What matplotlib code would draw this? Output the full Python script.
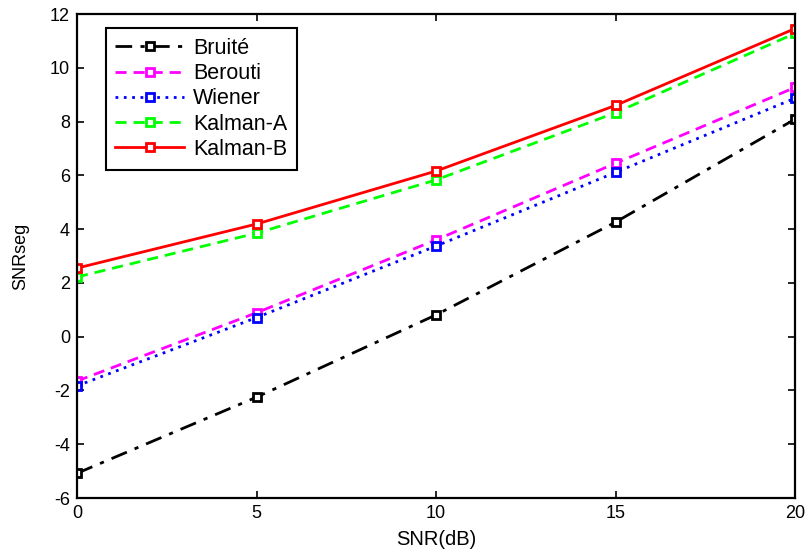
import matplotlib
matplotlib.use('Agg')
import matplotlib.pyplot as plt

plt.rcParams['font.family'] = ['Liberation Sans', 'DejaVu Sans']
plt.rcParams['axes.unicode_minus'] = False

# SNR d'entree (dB)
snr = [0, 5, 10, 15, 20]

# SNRseg pour chaque methode
bruite = [-5.08, -2.25, 0.81, 4.26, 8.09]
berouti = [-1.65, 0.89, 3.60, 6.45, 9.27]
wiener = [-1.83, 0.71, 3.37, 6.11, 8.87]
kalman_a = [2.22, 3.85, 5.83, 8.33, 11.28]
kalman_b = [2.55, 4.19, 6.16, 8.60, 11.46]

labels = ['Bruité', 'Berouti', 'Wiener', 'Kalman-A', 'Kalman-B']
colors = ['black', '#ff00ff', '#0000ff', '#00ff00', '#ff0000']
styles = [(0, (6, 3, 1.5, 3)), (0, (4, 2.5)), (0, (1, 2)), (0, (4, 2.5)), '-']

fig = plt.figure(figsize=(8.08, 5.52), dpi=100)
ax = fig.add_axes([0.0953, 0.0978, 0.8887, 0.8768])

series = [bruite, berouti, wiener, kalman_a, kalman_b]
for vals, lab, col, ls in zip(series, labels, colors, styles):
    ax.plot(snr, vals, linestyle=ls, color=col, linewidth=2,
            marker='s', markersize=6, markerfacecolor='white',
            markeredgecolor=col, markeredgewidth=2, label=lab)

ax.set_xlim(0, 20)
ax.set_ylim(-6, 12)
ax.set_xticks([0, 5, 10, 15, 20])
ax.set_yticks(range(-6, 13, 2))
ax.tick_params(direction='in', top=True, right=True, length=5, width=1.2,
               labelsize=13, pad=5)
for sp in ax.spines.values():
    sp.set_linewidth(1.6)

ax.set_xlabel('SNR(dB)', fontsize=14.5)
ax.set_ylabel('SNRseg', fontsize=13)
ax.xaxis.set_label_coords(0.5, -0.066)
ax.yaxis.set_label_coords(-0.066, 0.5)

leg = ax.legend(loc='upper left', bbox_to_anchor=(0.04, 0.971), borderaxespad=0,
                fontsize=15.5, handlelength=3.2, handletextpad=0.4,
                labelspacing=0.2, borderpad=0.45,
                fancybox=False, framealpha=1, edgecolor='black')
leg.get_frame().set_linewidth(1.5)

fig.savefig('out.png', dpi=100)
